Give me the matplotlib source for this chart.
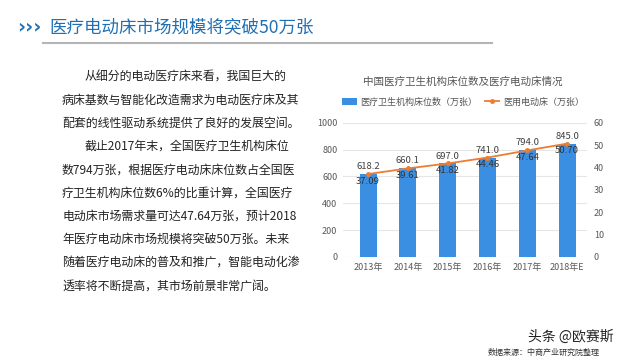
import matplotlib
matplotlib.use("Agg")
import matplotlib.pyplot as plt
from matplotlib.lines import Line2D
from matplotlib.patches import Patch

plt.rcParams['font.family'] = ['Noto Sans CJK SC', 'DejaVu Sans']

years = ["2013年", "2014年", "2015年", "2016年", "2017年", "2018年E"]
beds = [618.2, 660.1, 697.0, 741.0, 794.0, 845.0]
electric = [37.09, 39.61, 41.82, 44.46, 47.64, 50.70]
left_ticks = [0, 200, 400, 600, 800, 1000]
right_ticks = [0, 10, 20, 30, 40, 50, 60]

title = "医疗电动床市场规模将突破50万张"
chart_title = "中国医疗卫生机构床位数及医疗电动床情况"
legend_labels = ["医疗卫生机构床位数（万张）", "医用电动床（万张）"]
source = "数据来源：中商产业研究院整理"
watermark = "头条 @欧赛斯"
paragraph = [
    ("从细分的电动医疗床来看，我国巨大的", True),
    ("病床基数与智能化改造需求为电动医疗床及其", False),
    ("配套的线性驱动系统提供了良好的发展空间。", False),
    ("截止2017年末，全国医疗卫生机构床位", True),
    ("数794万张，根据医疗电动床床位数占全国医", False),
    ("疗卫生机构床位数6%的比重计算，全国医疗", False),
    ("电动床市场需求量可达47.64万张，预计2018", False),
    ("年医疗电动床市场规模将突破50万张。未来", False),
    ("随着医疗电动床的普及和推广，智能电动化渗", False),
    ("透率将不断提高，其市场前景非常广阔。", False),
]

W, H = 640, 360
fig = plt.figure(figsize=(6.4, 3.6), dpi=100)
fig.patch.set_facecolor("white")

def fx(px):
    return px / W

def fy(py):
    return 1 - py / H

# Header
fig.text(fx(17), fy(27), "›››", fontsize=14, fontweight="bold", color="#1F6FB5",
         ha="left", va="center", family=["DejaVu Sans"])
fig.text(fx(49), fy(27), title, fontsize=12.6, color="#1F6FB5", ha="left", va="center")
fig.add_artist(Line2D([fx(43), fx(492)], [fy(43), fy(43)], color="#B5B5B5", lw=1.5,
                      transform=fig.transFigure))

# Paragraph
y0 = 77
for i, (line, indent) in enumerate(paragraph):
    x = 85 if indent else 62
    fig.text(fx(x), fy(y0 + i * 23.2), line, fontsize=8.6, color="#222222",
             ha="left", va="center")

# Chart
ax = fig.add_axes([fx(343), fy(257), fx(587 - 343), (257 - 122.8) / H])
xs = list(range(len(years)))
bar_color = "#3A8FE3"
line_color = "#ED7D31"
ax.bar(xs, beds, width=0.43, color=bar_color, zorder=2)
ax.set_ylim(0, 1000)
ax.set_xlim(-0.63, 5.5)
ax.set_yticks(left_ticks)
ax.set_xticks(xs)
ax.set_xticklabels(years)
ax.grid(axis="y", color="#E6E6E6", lw=0.8, zorder=0)
for s in ax.spines.values():
    s.set_visible(False)
ax.tick_params(axis="both", length=0, labelsize=6.5, colors="#595959", pad=4)

for x, v in zip(xs, beds):
    ax.text(x, v + 22, f"{v:.1f}", ha="center", va="bottom", fontsize=6.8, color="#404040")

ax2 = ax.twinx()
ax2.plot(xs, electric, color=line_color, lw=1.3, marker="o", markersize=2.5, zorder=3)
ax2.set_ylim(0, 60)
ax2.set_yticks(right_ticks)
for s in ax2.spines.values():
    s.set_visible(False)
ax2.tick_params(axis="both", length=0, labelsize=6.5, colors="#595959", pad=5)
for x, v in zip(xs, electric):
    ax2.text(x, v - 1.2, f"{v:.2f}", ha="center", va="top", fontsize=6.8, color="#333333")

fig.text(fx(463), fy(82), chart_title, fontsize=7.6, color="#555555", ha="center", va="center")

handles = [Patch(facecolor=bar_color, edgecolor="none"),
           Line2D([0], [0], color=line_color, lw=1.3, marker="o", markersize=2.5)]
fig.legend(handles, legend_labels, loc="center", bbox_to_anchor=(fx(463), fy(102)),
           ncol=2, frameon=False, fontsize=6.5, handlelength=1.6, handleheight=0.8,
           columnspacing=0.8, handletextpad=0.4, labelcolor="#555555")

# Footer
fig.text(fx(488), fy(352), source, fontsize=5.8, color="#333333", ha="left", va="center")
fig.text(fx(528), fy(337), watermark, fontsize=10, color="#222222", ha="left", va="center")

fig.savefig("out.png", dpi=100, facecolor="white")
